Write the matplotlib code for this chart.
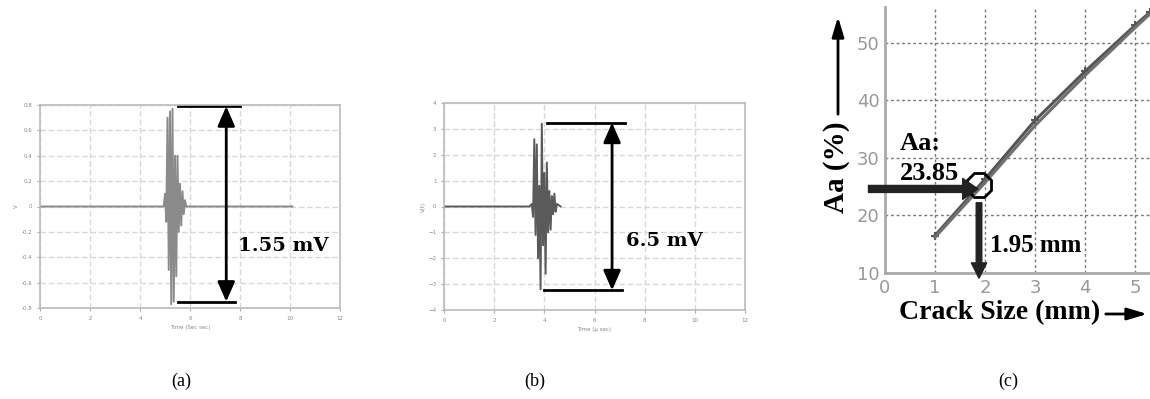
import matplotlib.pyplot as plt
import matplotlib.patches as mpatches

# panel (a): received signal, time in micro sec, amplitude
time_a = [0, 4.95, 5.0, 5.05, 5.1, 5.15, 5.2, 5.25, 5.3, 5.35, 5.4, 5.45,
          5.5, 5.55, 5.6, 5.65, 5.7, 5.75, 5.8, 5.85, 10.1]
amp_a = [0, 0, 0.1, -0.12, 0.7, -0.5, 0.75, -0.77, 0.77, -0.75, 0.4, -0.55,
         0.4, -0.2, 0.18, -0.15, 0.12, -0.06, 0.05, 0, 0]

# panel (b)
time_b = [0, 3.4, 3.5, 3.55, 3.6, 3.65, 3.7, 3.75, 3.8, 3.85, 3.9, 3.95,
          4.0, 4.05, 4.1, 4.15, 4.2, 4.25, 4.3, 4.35, 4.4, 4.45, 4.5, 4.65]
amp_b = [0, 0, 0.1, -0.4, 2.6, -1.1, 2.4, -2.0, 0.8, -3.2, 3.2, -1.5,
         1.3, -2.6, 1.7, -1.0, 0.6, -0.9, 0.4, -0.3, 0.5, -0.2, 0.1, 0]

# panel (c): Aa (%) vs crack size (mm)
crack = [1, 2, 3, 4, 5, 5.3]
aa_meas = [16.5, 26.3, 36.5, 45.0, 53.0, 55.3]
aa_fit = [16.2, 25.7, 35.6, 44.3, 52.6, 55.0]

W, H = 1150, 399
fig = plt.figure(figsize=(W / 100, H / 100), dpi=100)


def box(x0, y0, x1, y1):
    return [x0 / W, 1 - y1 / H, (x1 - x0) / W, (y1 - y0) / H]


def small_axes(ax, ylim, yticks):
    ax.set_xlim(0, 12)
    ax.set_ylim(*ylim)
    ax.set_xticks(range(0, 13, 2))
    ax.set_yticks(yticks)
    ax.tick_params(labelsize=4, colors='#aaaaaa', length=2, labelcolor='#888888')
    ax.grid(True, color='#d8d8d8', linestyle=(0, (4, 2)), lw=1)
    for s in ax.spines.values():
        s.set_color('#bbbbbb')
        s.set_linewidth(1.2)


slab = dict(family='DejaVu Serif', weight='bold', fontsize=14)
dbl = dict(arrowstyle='<|-|>,head_width=0.35,head_length=0.8', color='black',
           lw=2, mutation_scale=15, shrinkA=0, shrinkB=0)

# (a)
ax1 = fig.add_axes(box(40, 105, 340, 308))
small_axes(ax1, (-0.8, 0.8), [-0.8, -0.6, -0.4, -0.2, 0, 0.2, 0.4, 0.6, 0.8])
ax1.set_yticklabels(['-0.8', '-0.6', '-0.4', '-0.2', '0', '0.2', '0.4', '0.6', '0.8'])
ax1.plot(time_a, amp_a, color='#8a8a8a', lw=1.4)
ax1.set_xlabel('Time (Sec sec)', fontsize=4, color='#888888', labelpad=3)
ax1.set_ylabel('V', fontsize=4, color='#888888', labelpad=2)
ax1.plot([5.5, 8.0], [0.79, 0.79], color='black', lw=2, clip_on=False)
ax1.plot([5.5, 7.8], [-0.75, -0.75], color='black', lw=2, clip_on=False)
ax1.annotate('', xy=(7.45, 0.79), xytext=(7.45, -0.75), arrowprops=dbl,
             annotation_clip=False)
ax1.text(7.9, -0.31, '1.55 mV', va='center', ha='left', **slab)

# (b)
ax2 = fig.add_axes(box(444, 103, 745, 310))
small_axes(ax2, (-4, 4), range(-4, 5))
ax2.plot(time_b, amp_b, color='#5a5a5a', lw=1.4)
ax2.set_xlabel('Time (\u03bc sec)', fontsize=4, color='#888888', labelpad=3)
ax2.set_ylabel('V(t)', fontsize=4, color='#888888', labelpad=2)
ax2.plot([4.1, 7.2], [3.24, 3.24], color='black', lw=2, clip_on=False)
ax2.plot([4.0, 7.1], [-3.24, -3.24], color='black', lw=2, clip_on=False)
ax2.annotate('', xy=(6.7, 3.24), xytext=(6.7, -3.24), arrowprops=dbl,
             annotation_clip=False)
ax2.text(7.25, -1.35, '6.5 mV', va='center', ha='left', **slab)

# (c)
ax3 = fig.add_axes(box(885, 7, 1150, 273))
ax3.set_xlim(0, 5.3)
ax3.set_ylim(10, 56.2)
ax3.set_xticks(range(0, 6))
ax3.set_yticks(range(10, 51, 10))
ax3.tick_params(labelsize=13, colors='#999999', length=0, pad=4)
ax3.grid(True, color='#777777', linestyle=(0, (2, 2)), lw=1)
ax3.spines['top'].set_visible(False)
ax3.spines['right'].set_visible(False)
for s in ['left', 'bottom']:
    ax3.spines[s].set_color('#aaaaaa')
    ax3.spines[s].set_linewidth(2)
ax3.plot(crack, aa_meas, color='#555555', lw=2.2, marker='+', ms=6, mew=1.5)
ax3.plot(crack, aa_fit, color='#707070', lw=2.2)
ax3.plot([1.88], [25.3], marker='8', ms=18, mfc='none', mec='black', mew=2)

serif = dict(family='Liberation Serif', weight='bold')
ax3.annotate('', xy=(1.86, 24.6), xytext=(-0.33, 24.6),
             arrowprops=dict(arrowstyle='simple,head_width=1.5,head_length=1.1,tail_width=0.5',
                             color='#222222', mutation_scale=10, shrinkA=0, shrinkB=0),
             annotation_clip=False)
ax3.annotate('', xy=(1.88, 9.1), xytext=(1.88, 22.2),
             arrowprops=dict(arrowstyle='simple,head_width=1.1,head_length=1.1,tail_width=0.4',
                             color='#222222', mutation_scale=10, shrinkA=0, shrinkB=0),
             annotation_clip=False)
ax3.text(0.3, 32.5, 'Aa:', fontsize=19, ha='left', va='center', **serif)
ax3.text(0.3, 27.3, '23.85', fontsize=19, ha='left', va='center', **serif)
ax3.text(2.1, 14.8, '1.95 mm', fontsize=18, ha='left', va='center', **serif)

fig.text(837 / W, 1 - 167 / H, 'Aa (%)', rotation=90, fontsize=21,
         ha='center', va='center', **serif)
fig.text(1000 / W, 1 - 313 / H, 'Crack Size (mm)', fontsize=20,
         ha='center', va='center', **serif)
fig.patches.append(mpatches.FancyArrowPatch(
    (838 / W, 1 - 117 / H), (838 / W, 1 - 14 / H), transform=fig.transFigure,
    arrowstyle='-|>,head_width=0.3,head_length=1.0', mutation_scale=12,
    color='black', lw=2))
fig.patches.append(mpatches.FancyArrowPatch(
    (1103 / W, 1 - 314 / H), (1150 / W, 1 - 314 / H), transform=fig.transFigure,
    arrowstyle='-|>,head_width=0.3,head_length=1.0', mutation_scale=12,
    color='black', lw=2))

cap = dict(family='Liberation Serif', fontsize=13, ha='center', va='center')
fig.text(181 / W, 1 - 381 / H, '(a)', **cap)
fig.text(535 / W, 1 - 381 / H, '(b)', **cap)
fig.text(1008 / W, 1 - 381 / H, '(c)', **cap)

fig.savefig('out.png', dpi=100)
